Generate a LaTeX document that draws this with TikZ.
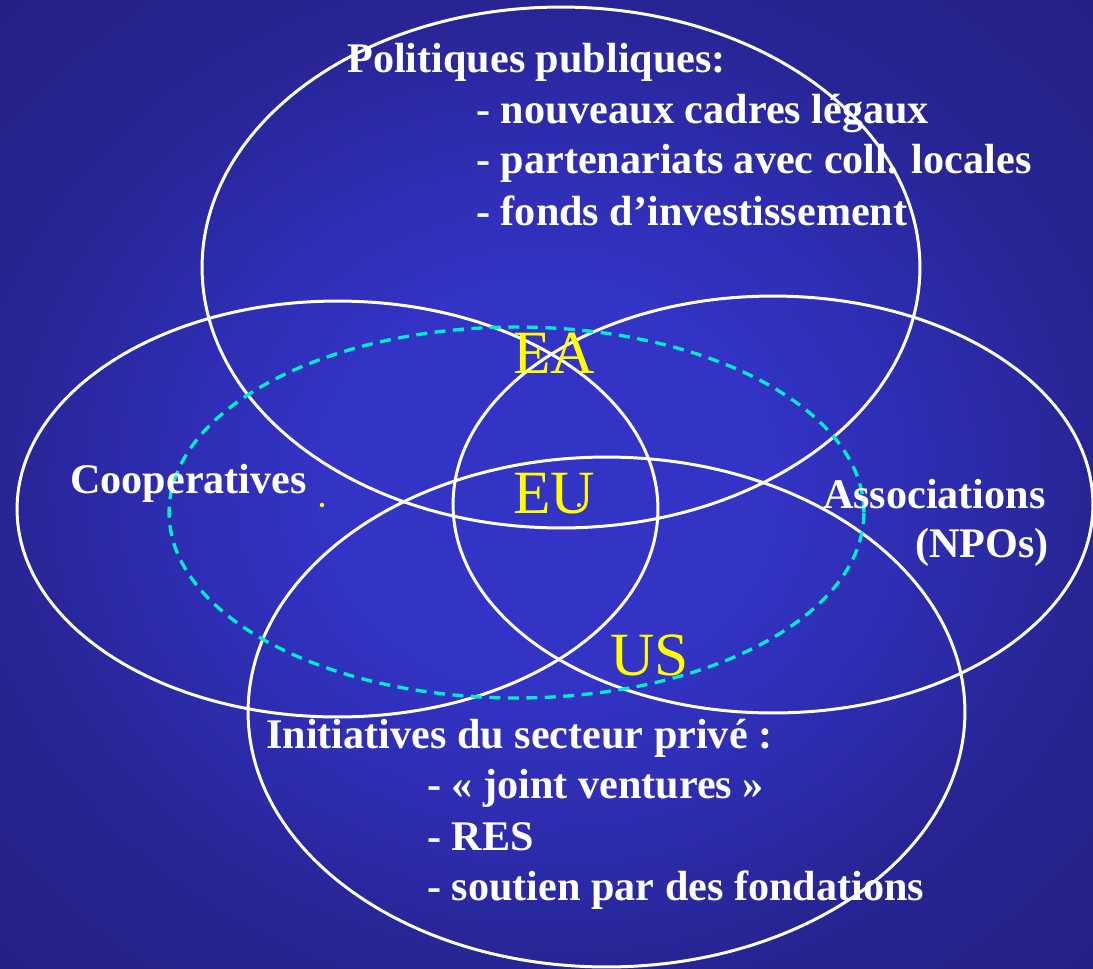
\documentclass[tikz,border=0pt]{standalone}
\usepackage{fontspec}
\setmainfont{Liberation Serif}
\definecolor{bgin}{RGB}{51,51,198}
\definecolor{bgmid}{RGB}{46,45,178}
\definecolor{bgedge}{RGB}{39,37,148}
\definecolor{bgout}{RGB}{35,33,132}
\definecolor{lagoon}{RGB}{0,238,205}
\definecolor{lemon}{RGB}{255,255,0}
\pgfdeclareradialshading{bgglow}{\pgfpoint{0bp}{0bp}}{color(0bp)=(bgin); color(10bp)=(bgin); color(17bp)=(bgmid); color(25bp)=(bgedge); color(35.5bp)=(bgout); color(50bp)=(bgout)}

\begin{document}
\begin{tikzpicture}[x=0.02cm,y=-0.02cm]
\tikzset{txt/.style={text=white,font=\fontsize{24}{29}\selectfont\bfseries,inner sep=0pt,anchor=base west}}
\tikzset{zone/.style={text=lemon,font=\fontsize{35}{42}\selectfont,inner sep=0pt,anchor=base west}}
\tikzset{ring/.style={draw=white,line width=1.7pt}}

\shade[shading=bgglow] (0,0) rectangle (1093,968);
\useasboundingbox (0,0) rectangle (1093,968);

\draw[ring] (561,267.5) ellipse [x radius=7.18cm,y radius=5.21cm];
\draw[ring] (337.5,509) ellipse [x radius=6.41cm,y radius=4.16cm];
\draw[ring] (773,504.5) ellipse [x radius=6.40cm,y radius=4.17cm];
\draw[ring] (606.5,712) ellipse [x radius=7.17cm,y radius=5.10cm];
\draw[lagoon,line width=1.9pt,dash pattern=on 0.22cm off 0.15cm] (516.5,512.5) ellipse [x radius=6.95cm,y radius=3.71cm];

\node[txt] (pol) at (347,72) {Politiques publiques:};
\node[txt] (pol1) at (476,123) {- nouveaux cadres légaux};
\node[txt] (pol2) at (476,173) {- partenariats avec coll. locales};
\node[txt] (pol3) at (476,225) {- fonds d’investissement};

\node[txt] (coop) at (70,493) {Cooperatives};
\node[txt,anchor=base east] (assoc) at (1046,508) {Associations};
\node[txt,anchor=base east] (npo) at (1049,557) {(NPOs)};

\node[txt] (priv) at (266,748) {Initiatives du secteur privé :};
\node[txt] (priv1) at (427,798) {- « joint ventures »};
\node[txt] (priv2) at (427,850) {- RES};
\node[txt] (priv3) at (427,900) {- soutien par des fondations};

\node[zone] (ea) at (513,373) {EA};
\node[zone] (eu) at (513,513) {EU};
\node[zone] (us) at (610,675) {US};

\fill[lemon] (322,505) circle [radius=0.045cm];
\fill[lemon] (579,505) circle [radius=0.04cm];
\end{tikzpicture}
\end{document}
